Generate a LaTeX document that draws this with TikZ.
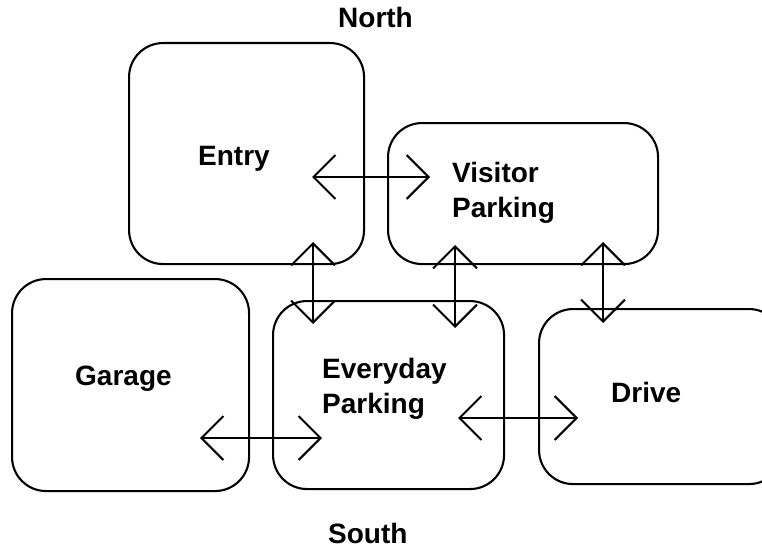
\documentclass[tikz,border=0pt]{standalone}
\usepackage{fontspec}
\setmainfont{Liberation Sans}
\usetikzlibrary{arrows.meta}
\begin{document}
\begin{tikzpicture}[x=1pt,y=-1pt,
  area/.style={draw, line width=2.1pt, rounded corners=34pt, inner sep=0pt,
    anchor=north west},
  lbl/.style={font=\fontsize{28}{35}\selectfont\bfseries, inner sep=0pt,
    align=left, anchor=base west},
  link/.style={line width=2pt, {Straight Barb[length=22pt,width=44pt]}-{Straight Barb[length=22pt,width=44pt]}}]
\clip (0,0) rectangle (762,551);

% areas of the site
\node[area, minimum width=235pt, minimum height=221pt] (entry)    at (128,42)  {};
\node[area, minimum width=270pt, minimum height=141pt] (visitor)  at (387,122) {};
\node[area, minimum width=237pt, minimum height=212pt] (garage)   at (11,278)  {};
\node[area, minimum width=231pt, minimum height=188pt] (everyday) at (272,300) {};
\node[area, minimum width=244pt, minimum height=175pt] (drive)    at (538,308) {};

% labels (two-line labels sit on the baseline of their last line)
\node[lbl] (tEntry)    at (198,165) {Entry};
\node[lbl] (tVisitor)  at (452,217) {Visitor\\Parking};
\node[lbl] (tGarage)   at (75,385)  {Garage};
\node[lbl] (tEveryday) at (322,413) {Everyday\\Parking};
\node[lbl] (tDrive)    at (611,402) {Drive};
\node[lbl] (north)     at (338,28)  {North};
\node[lbl] (south)     at (328,543) {South};

% end points of the two-way links
\coordinate (ev1) at (312,177);  \coordinate (ev2) at (430,177);
\coordinate (ee1) at (313,242);  \coordinate (ee2) at (313,324);
\coordinate (ve1) at (455,245);  \coordinate (ve2) at (455,328);
\coordinate (vd1) at (603,242);  \coordinate (vd2) at (603,323);
\coordinate (ge1) at (200,438);  \coordinate (ge2) at (322,438);
\coordinate (ed1) at (458,418);  \coordinate (ed2) at (578,418);

\draw[link] (ev1) -- (ev2);
\draw[link] (ee1) -- (ee2);
\draw[link] (ve1) -- (ve2);
\draw[link] (vd1) -- (vd2);
\draw[link] (ge1) -- (ge2);
\draw[link] (ed1) -- (ed2);
\end{tikzpicture}
\end{document}
